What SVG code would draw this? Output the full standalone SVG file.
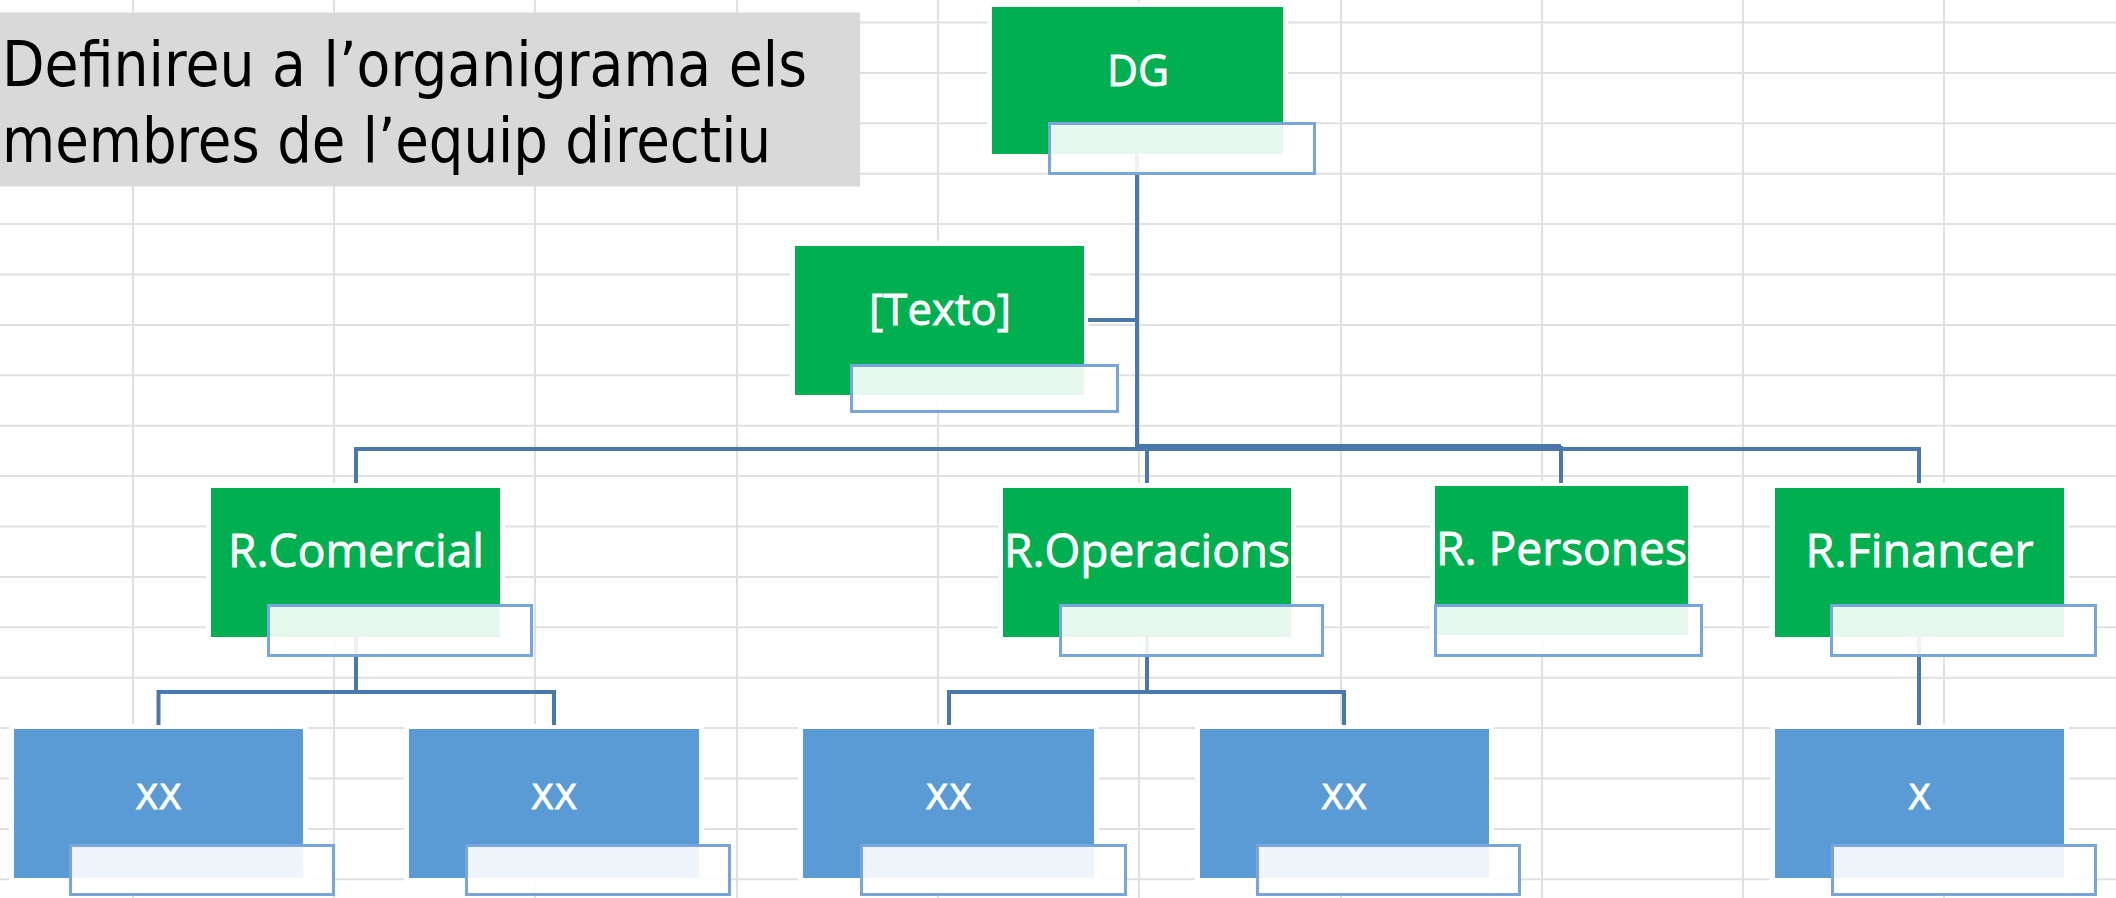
<svg xmlns="http://www.w3.org/2000/svg" width="2116" height="898" viewBox="0 0 2116 898">
<defs>
<style>
.grid line{stroke:#e0e0e0;stroke-width:2}
.halo{fill:#ffffff}
.g{fill:#00b050}
.b{fill:#5b9bd5}
.sub{fill:#ffffff;fill-opacity:0.9;stroke:#78a6dc;stroke-width:3}
.t{font-family:"Open Sans","Noto Sans","DejaVu Sans",sans-serif;fill:#ffffff;stroke:#ffffff;stroke-width:0.8;text-anchor:middle}
.tx{font-family:"DejaVu Sans","Noto Sans",sans-serif;fill:#ffffff;stroke:#ffffff;stroke-width:0.8;text-anchor:middle;font-size:34px}
.conn{stroke:#4a78ad;stroke-width:4;fill:none}
.title{font-family:"DejaVu Sans","Noto Sans",sans-serif;font-size:63px;fill:#000000}
</style>
</defs>
<rect width="2116" height="898" fill="#ffffff"/>
<g class="grid">
<line x1="133" y1="0" x2="133" y2="898"/>
<line x1="334" y1="0" x2="334" y2="898"/>
<line x1="535" y1="0" x2="535" y2="898"/>
<line x1="737" y1="0" x2="737" y2="898"/>
<line x1="938" y1="0" x2="938" y2="898"/>
<line x1="1139" y1="0" x2="1139" y2="898"/>
<line x1="1341" y1="0" x2="1341" y2="898"/>
<line x1="1542" y1="0" x2="1542" y2="898"/>
<line x1="1743" y1="0" x2="1743" y2="898"/>
<line x1="1944" y1="0" x2="1944" y2="898"/>
<line x1="0" y1="22.5" x2="2116" y2="22.5"/>
<line x1="0" y1="72.9" x2="2116" y2="72.9"/>
<line x1="0" y1="123.3" x2="2116" y2="123.3"/>
<line x1="0" y1="173.7" x2="2116" y2="173.7"/>
<line x1="0" y1="224.1" x2="2116" y2="224.1"/>
<line x1="0" y1="274.5" x2="2116" y2="274.5"/>
<line x1="0" y1="324.9" x2="2116" y2="324.9"/>
<line x1="0" y1="375.3" x2="2116" y2="375.3"/>
<line x1="0" y1="425.7" x2="2116" y2="425.7"/>
<line x1="0" y1="476.1" x2="2116" y2="476.1"/>
<line x1="0" y1="526.5" x2="2116" y2="526.5"/>
<line x1="0" y1="576.9" x2="2116" y2="576.9"/>
<line x1="0" y1="627.3" x2="2116" y2="627.3"/>
<line x1="0" y1="677.7" x2="2116" y2="677.7"/>
<line x1="0" y1="728.1" x2="2116" y2="728.1"/>
<line x1="0" y1="778.5" x2="2116" y2="778.5"/>
<line x1="0" y1="828.9" x2="2116" y2="828.9"/>
<line x1="0" y1="879.3" x2="2116" y2="879.3"/>
</g>
<g id="title">
<rect x="0" y="12.5" width="860" height="174" fill="#d9d9d9"/>
<text class="title" x="2" y="86" textLength="805" lengthAdjust="spacingAndGlyphs">Definireu a l’organigrama els</text>
<text class="title" x="2" y="162" textLength="769" lengthAdjust="spacingAndGlyphs">membres de l’equip directiu</text>
</g>
<g id="halos">
<rect class="halo" x="987" y="2" width="301" height="157"/>
<rect class="halo" x="790" y="241" width="299" height="159"/>
<rect class="halo" x="206" y="483" width="299" height="159"/>
<rect class="halo" x="998" y="483" width="298" height="159"/>
<rect class="halo" x="1430" y="481" width="263" height="159"/>
<rect class="halo" x="1770" y="483" width="299" height="159"/>
<rect class="halo" x="9" y="724" width="299" height="159"/>
<rect class="halo" x="404" y="724" width="300" height="159"/>
<rect class="halo" x="798" y="724" width="301" height="159"/>
<rect class="halo" x="1195" y="724" width="299" height="159"/>
<rect class="halo" x="1770" y="724" width="299" height="159"/>
</g>
<g id="connectors">
<path class="conn" d="M1137 154 V449"/>
<path class="conn" d="M1088 320 H1137"/>
<path class="conn" d="M356 483 V449 H1919 V483"/>
<path class="conn" d="M1137 446 H1561"/>
<path class="conn" d="M1147 449 V483"/>
<path class="conn" d="M1561 446 V483"/>
<path class="conn" d="M356 637 V692"/>
<path class="conn" d="M158.5 725 V692 H554 V725"/>
<path class="conn" d="M1147 637 V692"/>
<path class="conn" d="M949 725 V692 H1344 V725"/>
<path class="conn" d="M1919 637 V725"/>
</g>
<g id="node-dg">
<rect class="g" x="992" y="7" width="291" height="147"/>
<rect class="sub" x="1049.5" y="123.5" width="265" height="50"/>
<text class="t" x="1138" y="86" font-size="44" textLength="62" lengthAdjust="spacingAndGlyphs">DG</text>
</g>
<g id="node-texto">
<rect class="g" x="795" y="246" width="289" height="149"/>
<rect class="sub" x="851.5" y="365.5" width="266" height="46"/>
<text class="t" x="940" y="325" font-size="44" textLength="142" lengthAdjust="spacingAndGlyphs">[Texto]</text>
</g>
<g id="node-rcomercial">
<rect class="g" x="211" y="488" width="289" height="149"/>
<rect class="sub" x="268.5" y="605.5" width="263" height="50"/>
<text class="t" x="356" y="567" font-size="46" textLength="256" lengthAdjust="spacingAndGlyphs">R.Comercial</text>
</g>
<g id="node-roperacions">
<rect class="g" x="1003" y="488" width="288" height="149"/>
<rect class="sub" x="1060.5" y="605.5" width="262" height="50"/>
<text class="t" x="1147" y="567" font-size="46" textLength="286" lengthAdjust="spacingAndGlyphs">R.Operacions</text>
</g>
<g id="node-rpersones">
<rect class="g" x="1435" y="486" width="253" height="149"/>
<rect class="sub" x="1435.5" y="605.5" width="266" height="50"/>
<text class="t" x="1561.5" y="565" font-size="46" textLength="251" lengthAdjust="spacingAndGlyphs">R. Persones</text>
</g>
<g id="node-rfinancer">
<rect class="g" x="1775" y="488" width="289" height="149"/>
<rect class="sub" x="1831.5" y="605.5" width="264" height="50"/>
<text class="t" x="1919.5" y="567" font-size="46" textLength="228" lengthAdjust="spacingAndGlyphs">R.Financer</text>
</g>
<g id="node-xx1">
<rect class="b" x="14" y="729" width="289" height="149"/>
<rect class="sub" x="70.5" y="845.5" width="263" height="49"/>
<text class="tx" x="158.5" y="809">XX</text>
</g>
<g id="node-xx2">
<rect class="b" x="409" y="729" width="290" height="149"/>
<rect class="sub" x="466.5" y="845.5" width="263" height="49"/>
<text class="tx" x="554" y="809">XX</text>
</g>
<g id="node-xx3">
<rect class="b" x="803" y="729" width="291" height="149"/>
<rect class="sub" x="861.5" y="845.5" width="264" height="49"/>
<text class="tx" x="948.5" y="809">XX</text>
</g>
<g id="node-xx4">
<rect class="b" x="1200" y="729" width="289" height="149"/>
<rect class="sub" x="1257.5" y="845.5" width="262" height="49"/>
<text class="tx" x="1344" y="809">XX</text>
</g>
<g id="node-x">
<rect class="b" x="1775" y="729" width="289" height="149"/>
<rect class="sub" x="1832.5" y="845.5" width="263" height="49"/>
<text class="tx" x="1919.5" y="809">X</text>
</g>
</svg>
